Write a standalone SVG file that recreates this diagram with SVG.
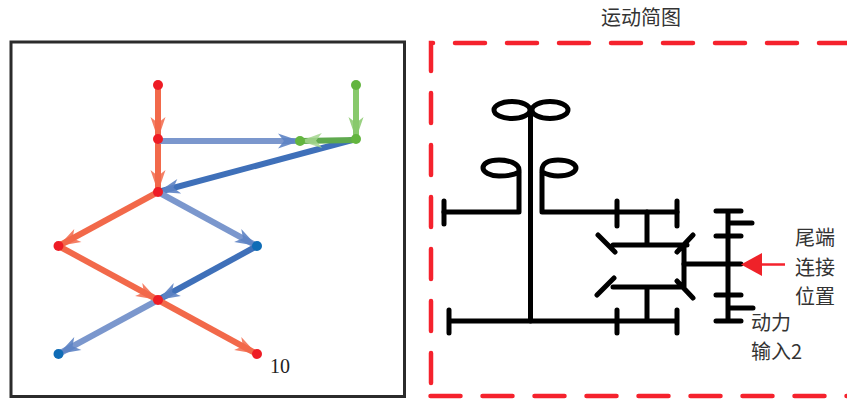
<svg xmlns="http://www.w3.org/2000/svg" width="847" height="399" viewBox="0 0 847 399">
<style>
.l{fill:none;stroke-width:6}
.o{stroke:#f2694a}.b1{stroke:#7b97cd}.b2{stroke:#3f70b9}.g1{stroke:#88c96c}.g2{stroke:#5fa94e}
.m{fill:none;stroke:#000;stroke-width:5;stroke-linecap:round;stroke-linejoin:round}
.d{fill:none;stroke:#f5222d;stroke-width:4.5;stroke-linecap:round;stroke-dasharray:30 22}
.t{font-family:"Noto Sans CJK SC","Liberation Serif",serif;font-size:20px;fill:#333}
.r{fill:#ee1c25}.u{fill:#0f6cb6}.n{fill:#63b53f}
</style>
<defs>
<marker id="ao" markerUnits="userSpaceOnUse" markerWidth="30" markerHeight="20" refX="26" refY="10" orient="auto"><path d="M26 10L4 2.500L10 10L4 17.500Z" fill="#f2694a" opacity=".85"/></marker>
<marker id="ab1" markerUnits="userSpaceOnUse" markerWidth="30" markerHeight="20" refX="26" refY="10" orient="auto"><path d="M26 10L4 2.500L10 10L4 17.500Z" fill="#5d83c4" opacity=".9"/></marker>
<marker id="ab2" markerUnits="userSpaceOnUse" markerWidth="30" markerHeight="20" refX="26" refY="10" orient="auto"><path d="M26 10L4 2.500L10 10L4 17.500Z" fill="#5d83c4" opacity=".9"/></marker>
<marker id="ag1" markerUnits="userSpaceOnUse" markerWidth="30" markerHeight="20" refX="26" refY="10" orient="auto"><path d="M26 10L4 2.500L10 10L4 17.500Z" fill="#88c96c" opacity=".85"/></marker>
<marker id="ag2" markerUnits="userSpaceOnUse" markerWidth="30" markerHeight="20" refX="26" refY="10" orient="auto"><path d="M26 10L4 2.500L10 10L4 17.500Z" fill="#a5d68f" opacity=".85"/></marker>
</defs>
<rect id="frame" x="11" y="42" width="393.500" height="354.500" fill="none" stroke="#2b2b2b" stroke-width="3"/>
<g id="connectors">
<path class="l o" d="M158 85V139" marker-end="url(#ao)"/>
<path class="l o" d="M158 139V192" marker-end="url(#ao)"/>
<path class="l b1" d="M158 141H300" marker-end="url(#ab1)"/>
<path class="l g1" d="M356 85V139" marker-end="url(#ag1)"/>
<path class="l b2" d="M356 139L158 192" marker-end="url(#ab2)"/>
<path class="l g2" d="M356 140L300 141" marker-end="url(#ag2)"/>
<path class="l o" d="M158 192L58.500 246" marker-end="url(#ao)"/>
<path class="l b1" d="M158 192L257 246" marker-end="url(#ab1)"/>
<path class="l b1" d="M158 300L58.500 354" marker-end="url(#ab1)"/>
<path class="l b2" d="M257 246L158 300" marker-end="url(#ab2)"/>
<path class="l o" d="M58.500 246L158 300" marker-end="url(#ao)"/>
<path class="l o" d="M158 300L257 354" marker-end="url(#ao)"/>
</g>
<g id="n1"><circle class="r" cx="158" cy="85" r="5"/></g>
<g id="n2"><circle class="r" cx="158" cy="139" r="5"/></g>
<g id="n3"><circle class="r" cx="158" cy="192" r="5"/></g>
<g id="n4"><circle class="n" cx="356" cy="85" r="5"/></g>
<g id="n5"><circle class="n" cx="356" cy="139" r="5"/></g>
<g id="n6"><circle class="n" cx="300" cy="141" r="5"/></g>
<g id="n7"><circle class="r" cx="58.500" cy="246" r="5"/></g>
<g id="n8"><circle class="u" cx="257" cy="246" r="5"/></g>
<g id="n9"><circle class="r" cx="158" cy="300" r="5"/></g>
<g id="n10"><circle class="u" cx="58.500" cy="354" r="5"/></g>
<g id="n11"><circle class="r" cx="257" cy="354" r="5"/></g>
<text x="270" y="373" font-family="Liberation Serif,serif" font-size="20" fill="#222">10</text>
<text class="t" x="601" y="25">运动简图</text>
<path class="d" d="M431 383V43H847"/>
<path class="d" d="M430.500 396H847"/>
<g id="mechanism">
<path class="m" d="M530.500 110V321"/>
<ellipse class="m" cx="512" cy="110" rx="18" ry="8.500"/>
<ellipse class="m" cx="550" cy="110" rx="18" ry="8.500"/>
<path class="m" d="M444 212H519V170C519 163 508 160 499 160C488 160 483 164 483 168C483 172 490 176 499 176C508 176 516 174 519 172"/>
<path class="m" d="M677 212H542V170C542 163 549 160 558 160C569 160 576 164 576 168C576 172 569 176 558 176C552 176 546 174 542 172"/>
<path class="m" d="M444 201V224M617 201V226M677 201V226M647 212V245M613 245H687M598 235L615 252M693 235L677 252M684 245V287M613 287H684M597 295L614 278M677 281L693 298M647 287V321M449 321H677M449 310V333M617 310V333M677 310V333"/>
<path class="m" d="M684 264H741M728 211V321M716 211H741M728 223H752M716 236H741M716 295H741M728 308H753M716 321H741"/>
</g>
<g id="input-arrow"><path d="M785 264.500H755" stroke="#f5222d" stroke-width="2.500" fill="none"/><path d="M741 264.500L762 253V276Z" fill="#ef2229"/></g>
<text class="t" x="795" y="245">尾端</text>
<text class="t" x="795" y="275">连接</text>
<text class="t" x="795" y="304">位置</text>
<text class="t" x="751" y="330">动力</text>
<text class="t" x="751" y="359">输入2</text>
</svg>
